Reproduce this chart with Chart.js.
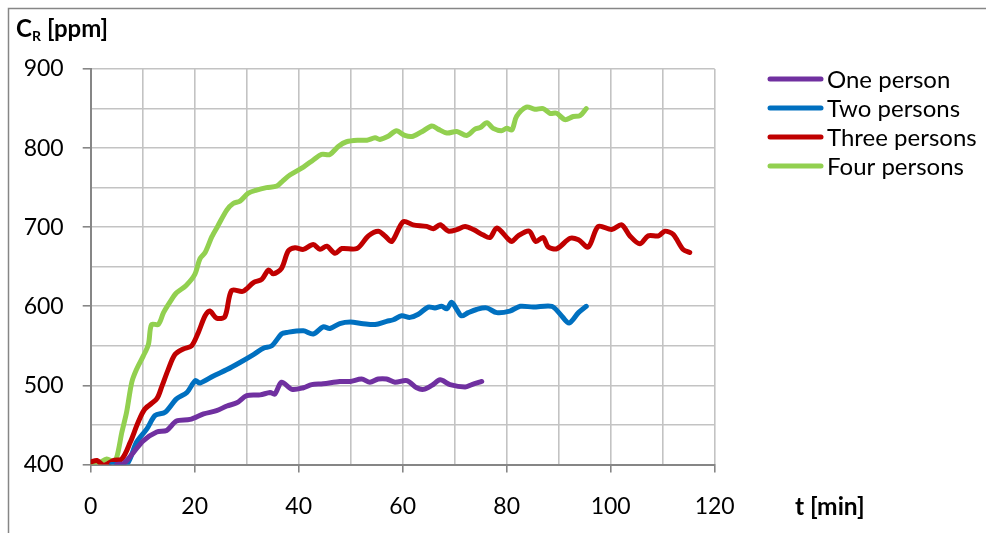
<!DOCTYPE html>
<html>
<head>
<meta charset="utf-8">
<script src="https://cdn.jsdelivr.net/npm/chart.js@4.4.1/dist/chart.umd.min.js"></script>
<style>
  html, body { margin: 0; padding: 0; background: #ffffff; }
  #wrap { width: 986px; height: 533px; position: relative; }
</style>
</head>
<body>
<div id="wrap"><canvas id="c" width="986" height="533"></canvas></div>
<script>
// CO2 concentration in the room over time, for one to four occupants
const seriesNames = ['One person', 'Two persons', 'Three persons', 'Four persons'];
const seriesColors = ['#7030A0', '#0070C0', '#C00000', '#92D050'];

const tOne = [5, 6.3, 8.2, 10.1, 12.7, 14.6, 16.5, 19.1, 21.7, 24.2, 26.2, 28.1, 30, 32.6, 34.5, 35.4, 36.7, 38.7, 40.9, 42.5, 44.7, 47.9, 49.9, 52.1, 53.7, 55.3, 56.9, 58.5, 60.8, 62.7, 64, 65.6, 67.2, 69.1, 72, 73.3, 75.2];
const cOne = [400, 401, 415, 430, 441, 443, 455, 457, 464, 468, 474, 478, 487, 488, 491, 489, 504, 495, 497, 501, 502, 505, 505, 508, 504, 508, 508, 504, 506, 497, 495, 500, 507, 501, 498, 501, 505];

const tTwo = [4, 6.9, 8.8, 10.8, 12.4, 14.3, 16.5, 18.5, 20.1, 21, 23.6, 26.2, 28.7, 31.3, 33.2, 34.8, 36.7, 37.7, 40.9, 42.8, 44.7, 46, 47.9, 49.9, 52.4, 54.7, 56.9, 58.2, 59.8, 61.4, 63, 64.9, 66.2, 67.5, 68.5, 69.4, 70.4, 71.3, 72.6, 74.2, 76.1, 78.1, 80.6, 82.6, 85.1, 88.7, 90.3, 92, 93.8, 95.3];
const cTwo = [400, 400, 428, 445, 462, 466, 483, 491, 506, 503, 512, 520, 529, 539, 547, 550, 565, 567, 569, 565, 574, 572, 578, 580, 578, 577, 581, 583, 588, 586, 590, 599, 598, 600, 597, 605, 596, 588, 592, 596, 598, 592, 594, 600, 599, 600, 590, 579, 592, 600];

const tThree = [0, 1.2, 2.5, 4.3, 6, 7.6, 9.1, 10.4, 12.7, 13.7, 14.9, 16.2, 17.8, 19.4, 20.7, 22, 22.9, 24.2, 25.8, 27.1, 29.3, 31.3, 32.9, 34.2, 35.1, 36.7, 38, 39.3, 40.9, 42.8, 44.1, 45.4, 47, 48.3, 51.2, 53.4, 55.3, 56.6, 57.9, 60.1, 62, 64.6, 65.9, 67.2, 68.8, 70.4, 72, 73.6, 75.5, 76.8, 78.1, 80.3, 81, 82.2, 84.3, 85.6, 87, 88, 89.7, 92.2, 93.8, 95.7, 97.6, 100.2, 102.1, 103.7, 105.6, 107.2, 109.2, 110.4, 112, 113.9, 115.2];
const cThree = [403, 405, 399, 405, 407, 428, 453, 470, 483, 499, 520, 539, 546, 550, 567, 588, 594, 585, 587, 620, 619, 630, 634, 646, 641, 648, 670, 674, 672, 678, 672, 676, 667, 673, 673, 689, 695, 689, 682, 707, 703, 701, 698, 703, 695, 697, 701, 697, 690, 687, 699, 685, 682, 689, 695, 682, 687, 675, 673, 686, 684, 675, 701, 697, 703, 689, 679, 689, 689, 695, 691, 672, 668];

const tFour = [0, 1.6, 3.1, 4.3, 5, 6, 6.9, 7.9, 8.8, 10.1, 11.1, 11.7, 13, 14, 15.2, 16.5, 18.3, 20, 21, 22, 23.3, 24.4, 26.2, 27.4, 28.7, 30.3, 31.9, 33.8, 35.8, 37, 38.3, 40.9, 42.8, 44.4, 46, 47.6, 49.2, 51.8, 53.1, 54.7, 55.6, 57.2, 58.8, 60.4, 62, 64, 65.6, 66.8, 68.5, 70.4, 72.3, 73.9, 74.9, 76.2, 77.4, 79, 80, 81, 81.9, 83.8, 85.4, 87, 88.3, 89.6, 91.2, 92.8, 94.1, 95.3];
const cFour = [400, 402, 407, 404, 409, 441, 466, 504, 520, 537, 552, 577, 577, 592, 605, 617, 626, 640, 660, 668, 688, 701, 722, 730, 733, 743, 747, 750, 752, 759, 766, 776, 785, 792, 792, 802, 808, 810, 810, 813, 811, 815, 822, 816, 815, 822, 828, 824, 819, 821, 816, 824, 826, 832, 825, 822, 825, 823, 840, 852, 849, 850, 844, 844, 836, 840, 841, 850];

const xTickStep = 10;   // grid every 10 min, labels every 20
const yTickStep = 50;   // grid every 50 ppm, labels every 100

const times = [tOne, tTwo, tThree, tFour];
const concs = [cOne, cTwo, cThree, cFour];

const FONT = 'Lato, "Open Sans", sans-serif';
const AXIS_GREY = '#868686';

function toPoints(ts, vs) {
  return ts.map((t, i) => ({ x: t, y: vs[i] }));
}

const datasets = seriesNames.map((name, i) => ({
  label: name,
  data: toPoints(times[i], concs[i]),
  borderColor: seriesColors[i],
  backgroundColor: seriesColors[i],
  borderWidth: 5,
  pointRadius: 0,
  tension: 0.3,
  borderCapStyle: 'round',
  borderJoinStyle: 'round',
  fill: false
}));

// Frame, axis titles and legend drawn on top of the chart
const decorations = {
  id: 'decorations',
  afterDraw(chart) {
    const ctx = chart.ctx;
    ctx.save();
    // outer frame (top and left edges)
    ctx.strokeStyle = AXIS_GREY;
    ctx.lineWidth = 1.5;
    ctx.beginPath();
    ctx.moveTo(8.5, 533);
    ctx.lineTo(8.5, 8.5);
    ctx.lineTo(986, 8.5);
    ctx.stroke();

    ctx.fillStyle = '#000000';
    ctx.textBaseline = 'alphabetic';
    ctx.textAlign = 'left';
    // y-axis title with subscript
    ctx.font = 'bold 24px ' + FONT;
    ctx.fillText('C', 16, 37);
    ctx.font = 'bold 14px ' + FONT;
    ctx.fillText('R', 32, 41);
    ctx.font = 'bold 24px ' + FONT;
    ctx.fillText('[ppm]', 47, 37);

    // x-axis title
    ctx.font = 'bold 24.5px ' + FONT;
    ctx.fillText('t [min]', 795, 515);

    // legend
    const rows = [79, 108, 137, 166];
    ctx.font = '24px ' + FONT;
    ctx.textBaseline = 'middle';
    chart.data.datasets.forEach((ds, i) => {
      const y = rows[i];
      ctx.strokeStyle = ds.borderColor;
      ctx.lineWidth = 5;
      ctx.lineCap = 'round';
      ctx.beginPath();
      ctx.moveTo(770, y);
      ctx.lineTo(821, y);
      ctx.stroke();
      ctx.fillStyle = '#000000';
      ctx.fillText(ds.label, 827, y + 1);
    });
    ctx.restore();
  }
};

new Chart(document.getElementById('c'), {
  type: 'line',
  data: { datasets },
  options: {
    responsive: false,
    animation: false,
    devicePixelRatio: 1,
    layout: { padding: { left: 0, top: 69, right: 271.3, bottom: 0 } },
    plugins: {
      legend: { display: false },
      tooltip: { enabled: false }
    },
    scales: {
      x: {
        type: 'linear',
        min: 0,
        max: 120,
        afterFit(scale) { scale.height = 68.5; },
        ticks: {
          stepSize: xTickStep,
          autoSkip: false,
          maxRotation: 0,
          padding: 20,
          color: '#000000',
          font: { family: FONT, size: 23 },
          callback: (v) => (v % 20 === 0 ? String(v) : '')
        },
        grid: {
          color: '#c3c3c3',
          lineWidth: 1.6,
          tickLength: 8,
          tickWidth: 1.6,
          tickColor: (c) => (c.tick && c.tick.value % 20 === 0 ? AXIS_GREY : 'rgba(0,0,0,0)')
        },
        border: { color: AXIS_GREY, width: 2 }
      },
      y: {
        type: 'linear',
        min: 400,
        max: 900,
        afterFit(scale) { scale.width = 90.7; },
        ticks: {
          stepSize: yTickStep,
          autoSkip: false,
          padding: 19,
          color: '#000000',
          font: { family: FONT, size: 23 },
          callback: (v) => (v % 100 === 0 ? String(v) : '')
        },
        grid: {
          color: '#c3c3c3',
          lineWidth: 1.6,
          tickLength: 8,
          tickWidth: 1.6,
          tickColor: (c) => (c.tick && c.tick.value % 100 === 0 ? AXIS_GREY : 'rgba(0,0,0,0)')
        },
        border: { color: AXIS_GREY, width: 2 }
      }
    }
  },
  plugins: [decorations]
});
</script>
</body>
</html>
